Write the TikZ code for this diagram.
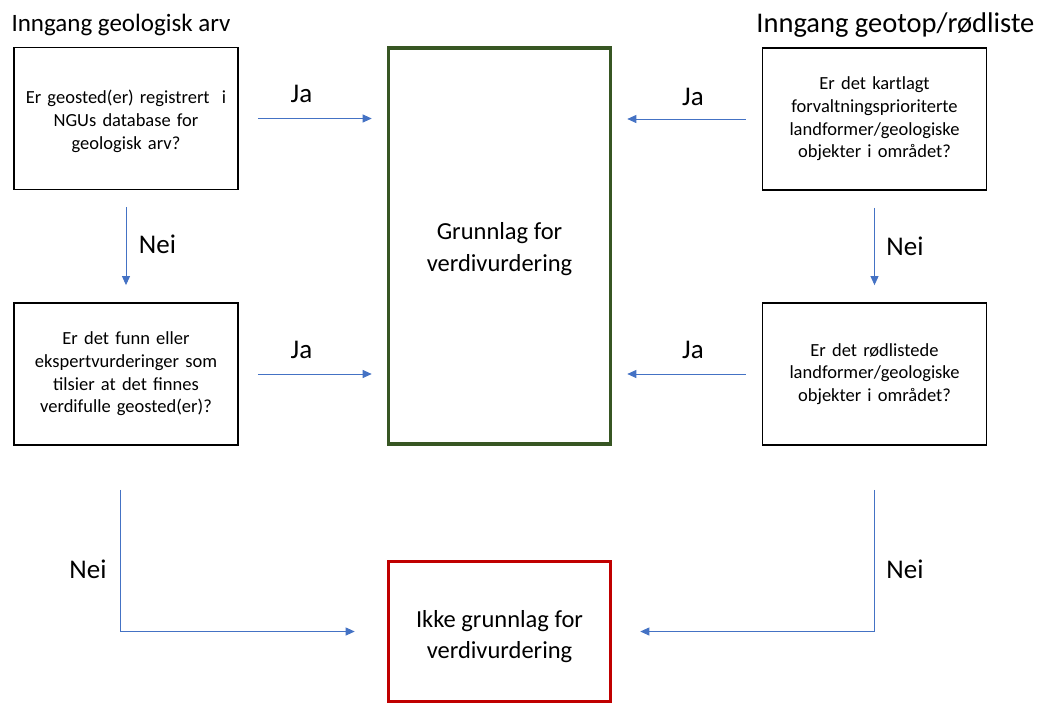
\documentclass[tikz,border=0pt]{standalone}
\usepackage{fontspec}
\setmainfont{Carlito}
\usetikzlibrary{arrows.meta,calc}
\definecolor{flowblue}{HTML}{4472C4}
\definecolor{okgreen}{HTML}{375623}
\definecolor{nored}{HTML}{C00000}
% lower a centred block of lines without changing the box's nominal size
\newcommand{\lowered}[3]{\raisebox{-#1}[\height][\depth]{\parbox{#2}{\centering #3}}}
\begin{document}
\begin{tikzpicture}[x=1pt,y=-1pt,
  question/.style={draw=black,line width=1.8pt,minimum width=224pt,minimum height=142pt,
    inner sep=0pt,align=center,text width=220pt,font=\fontsize{18.5}{22.7}\selectfont},
  result/.style={line width=3.6pt,minimum width=222pt,inner sep=0pt,align=center,
    font=\fontsize{24.5}{31.5}\selectfont},
  flow/.style={draw=flowblue,line width=0.9pt,-{Triangle[length=9pt,width=8pt]}},
  lbl/.style={font=\fontsize{27}{30}\selectfont,anchor=base}]
\useasboundingbox (0,0) rectangle (1041,704);

% headings of the two entry columns
\node[font=\fontsize{25}{28}\selectfont,anchor=base west] (t1) at (8,31) {Inngang geologisk arv};
\node[font=\fontsize{28.5}{30}\selectfont,anchor=base east] (t2) at (1038,32) {Inngang geotop/rødliste};

% question boxes
\node[question] (a) at (126,118.5) {\lowered{3pt}{220pt}{Er geosted(er) registrert\ \ i\\NGUs database for\\geologisk arv?}};
\node[question] (b) at (126,374) {Er det funn eller\\ekspertvurderinger som\\tilsier at det finnes\\verdifulle geosted(er)?};
\node[question] (c) at (874.5,119) {Er det kartlagt\\forvaltningsprioriterte\\landformer/geologiske\\objekter i området?};
\node[question] (d) at (874.5,374) {Er det rødlistede\\landformer/geologiske\\objekter i området?};

% outcome boxes
\node[result,draw=okgreen,minimum height=396pt] (g) at (499.5,246) {\lowered{3pt}{210pt}{Grunnlag for\\verdivurdering}};
\node[result,draw=nored,minimum height=140pt] (r) at (499.5,631.5) {\lowered{5pt}{210pt}{Ikke grunnlag for\\verdivurdering}};

% "Ja" connectors into the green box
\draw[flow,shorten <=19pt,shorten >=15pt] (a.east) -- (a.east -| g.west);
\draw[flow,shorten <=19pt,shorten >=15pt] (b.east) -- (b.east -| g.west);
\draw[flow,shorten <=16pt,shorten >=15pt] (c.west) -- (c.west -| g.east);
\draw[flow,shorten <=16pt,shorten >=15pt] (d.west) -- (d.west -| g.east);
\node[lbl] (ja1) at (301.5,102) {Ja};
\node[lbl] (ja2) at (301.5,358) {Ja};
\node[lbl] (ja3) at (693,105) {Ja};
\node[lbl] (ja4) at (693,358) {Ja};

% "Nei" connectors down the columns
\draw[flow,shorten <=17pt,shorten >=17pt] (a.south) -- (b.north);
\draw[flow,shorten <=17pt,shorten >=17pt] (c.south) -- (d.north);
\node[lbl] (nei1) at (157.5,253) {Nei};
\node[lbl] (nei2) at (905,255) {Nei};

% "Nei" connectors into the red box
\coordinate (bl) at ($(b.south)+(-6,44)$);
\coordinate (dr) at ($(d.south)+(0,44)$);
\draw[flow,shorten >=32pt] (bl) |- (r.west);
\draw[flow,shorten >=28pt] (dr) |- (r.east);
\node[lbl] (nei3) at (88,578) {Nei};
\node[lbl] (nei4) at (905,578) {Nei};
\end{tikzpicture}
\end{document}
